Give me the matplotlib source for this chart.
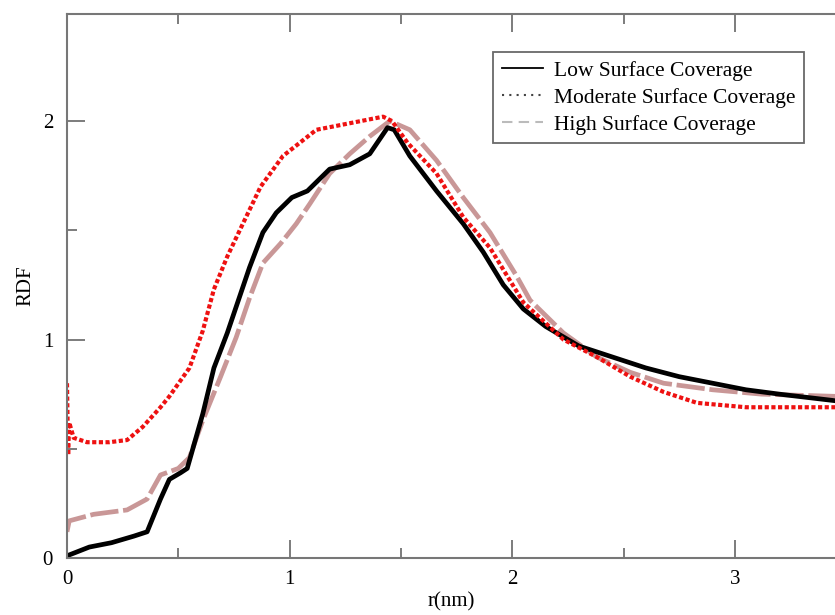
import matplotlib
matplotlib.use("Agg")
import matplotlib.pyplot as plt
from matplotlib.lines import Line2D
from matplotlib.ticker import MultipleLocator

# valeurs
r_low = [0, 0.05, 0.1, 0.2, 0.3, 0.36, 0.42, 0.46, 0.51, 0.54, 0.61, 0.66, 0.72, 0.76, 0.82,
         0.88, 0.94, 1.01, 1.08, 1.18, 1.27, 1.36, 1.44, 1.47, 1.54, 1.66, 1.78, 1.87, 1.96,
         2.05, 2.15, 2.30, 2.45, 2.60, 2.75, 2.90, 3.05, 3.2, 3.45]
rdf_low = [0.01, 0.03, 0.05, 0.07, 0.10, 0.12, 0.27, 0.36, 0.39, 0.41, 0.66, 0.87, 1.03, 1.15, 1.33,
           1.49, 1.58, 1.65, 1.68, 1.78, 1.80, 1.85, 1.97, 1.96, 1.84, 1.68, 1.53, 1.40, 1.25,
           1.14, 1.06, 0.97, 0.92, 0.87, 0.83, 0.80, 0.77, 0.75, 0.72]

r_mod = [0, 0.005, 0.01, 0.03, 0.09, 0.19, 0.27, 0.34, 0.42, 0.46, 0.55, 0.61, 0.66, 0.72, 0.79,
         0.87, 0.97, 1.12, 1.27, 1.42, 1.46, 1.53, 1.66, 1.78, 1.90, 1.99, 2.05, 2.23, 2.38,
         2.53, 2.68, 2.83, 3.05, 3.28, 3.45]
rdf_mod = [0.80, 0.47, 0.62, 0.55, 0.53, 0.53, 0.54, 0.60, 0.69, 0.74, 0.87, 1.04, 1.23, 1.38, 1.53,
           1.70, 1.84, 1.96, 1.99, 2.02, 2.00, 1.90, 1.76, 1.56, 1.42, 1.27, 1.17, 1.00, 0.92,
           0.83, 0.76, 0.71, 0.69, 0.69, 0.69]

r_high = [0, 0.01, 0.12, 0.27, 0.36, 0.42, 0.50, 0.55, 0.61, 0.69, 0.76, 0.82, 0.88, 0.96, 1.03,
          1.09, 1.18, 1.27, 1.36, 1.45, 1.54, 1.66, 1.78, 1.90, 2.02, 2.08, 2.23, 2.38, 2.53,
          2.68, 2.90, 3.12, 3.45]
rdf_high = [0.12, 0.17, 0.20, 0.22, 0.27, 0.38, 0.41, 0.46, 0.63, 0.83, 1.01, 1.19, 1.35, 1.44, 1.53,
            1.62, 1.76, 1.85, 1.93, 2.00, 1.96, 1.82, 1.65, 1.49, 1.29, 1.18, 1.03, 0.92, 0.85,
            0.80, 0.77, 0.75, 0.74]

legende = ["Low Surface Coverage", "Moderate Surface Coverage", "High Surface Coverage"]

plt.rcParams["font.family"] = ["Liberation Serif", "DejaVu Serif"]

fig = plt.figure(figsize=(8.35, 6.15), dpi=100)
ax = fig.add_axes([67 / 835, 1 - 558 / 615, 1 - 67 / 835, (558 - 14) / 615])

ax.plot(r_high, rdf_high, color="#c99797", lw=3.4, linestyle=(0, (6, 1)))
ax.plot(r_low, rdf_low, color="black", lw=3.4)
ax.plot(r_mod, rdf_mod, color="#ee1111", lw=3, linestyle=(0, (1, 0.6)))

ax.set_xlim(0, 3.45)
ax.set_ylim(0, 2.49)
ax.xaxis.set_major_locator(MultipleLocator(1))
ax.xaxis.set_minor_locator(MultipleLocator(0.5))
ax.yaxis.set_major_locator(MultipleLocator(1))
ax.yaxis.set_minor_locator(MultipleLocator(0.5))
ax.tick_params(which="both", direction="in", top=True, right=False, color="#666666", width=1.2,
               labelsize=15)
ax.tick_params(which="major", length=13)
ax.tick_params(which="minor", length=7)
ax.tick_params(axis="x", pad=9)
ax.tick_params(axis="y", pad=10)
for s in ["left", "bottom", "top"]:
    ax.spines[s].set_color("#777777")
    ax.spines[s].set_linewidth(1.5)
ax.spines["right"].set_visible(False)

ax.set_xlabel("r(nm)", fontsize=15, labelpad=2)
ax.set_ylabel("RDF", fontsize=15, labelpad=5)

poignees = [Line2D([], [], color="black", lw=1.3),
            Line2D([], [], color="#444444", lw=1.5, linestyle=(0, (1, 2.5))),
            Line2D([], [], color="#bbbbbb", lw=1.5, linestyle=(0, (5, 3)))]
leg = ax.legend(poignees, legende, loc="upper left", bbox_to_anchor=((493 - 67) / 768, (558 - 52) / 544),
                fontsize=15.5, frameon=True, fancybox=False, edgecolor="#444444", handlelength=1.9,
                borderpad=0.4, labelspacing=0.32, handletextpad=0.55, borderaxespad=0)
leg.get_frame().set_linewidth(1.3)

plt.savefig("out.png", dpi=100)
